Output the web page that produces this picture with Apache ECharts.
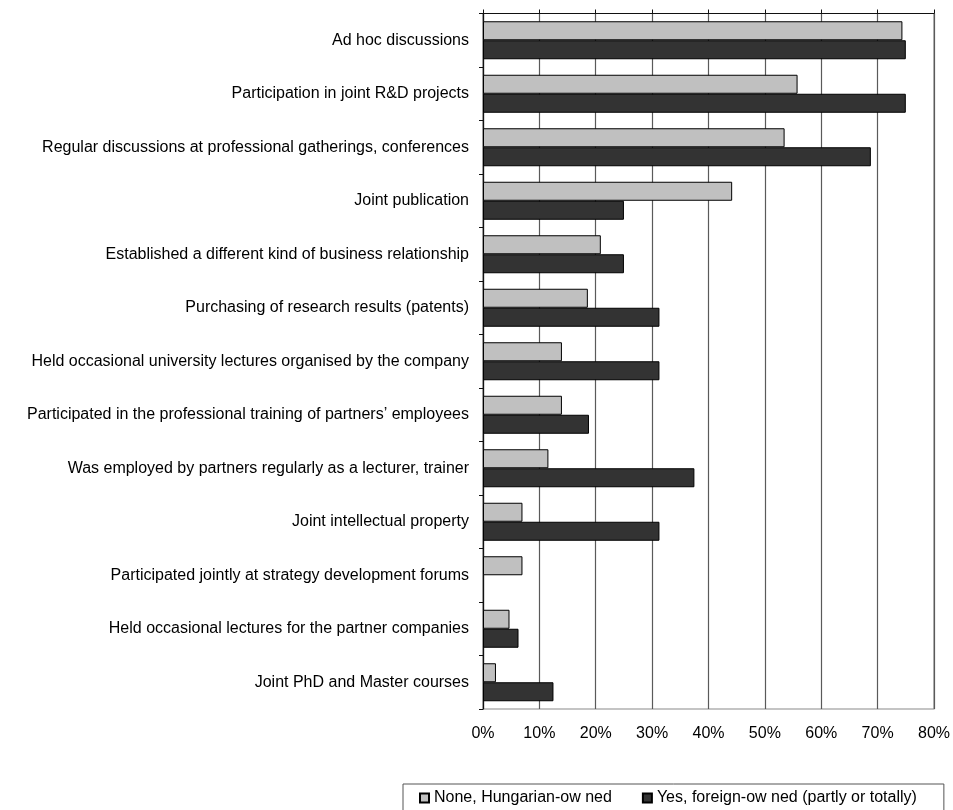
<!DOCTYPE html>
<html>
<head>
<meta charset="utf-8">
<script src="https://cdn.jsdelivr.net/npm/echarts@6/dist/echarts.min.js"></script>
<style>
  html, body { margin: 0; padding: 0; background: #ffffff; }
  #chart { width: 953px; height: 810px; }
</style>
</head>
<body>
<div id="chart"></div>
<script>
// Forms of cooperation, listed top to bottom
const categories = [
  'Ad hoc discussions',
  'Participation in joint R&D projects',
  'Regular discussions at professional gatherings, conferences',
  'Joint publication',
  'Established a different kind of business relationship',
  'Purchasing of research results (patents)',
  'Held occasional university lectures organised by the company',
  'Participated in the professional training of partners\u2019 employees',
  'Was employed by partners regularly as a lecturer, trainer',
  'Joint intellectual property',
  'Participated jointly at strategy development forums',
  'Held occasional lectures for the partner companies',
  'Joint PhD and Master courses'
];

// Share of respondents (%)
const hungarianOwned = [74.4, 55.8, 53.5, 44.2, 20.9, 18.6, 14.0, 14.0, 11.6, 7.0, 7.0, 4.7, 2.3];
const foreignOwned   = [75.0, 75.0, 68.8, 25.0, 25.0, 31.3, 31.3, 18.8, 37.5, 31.3, 0, 6.3, 12.5];

const seriesNames = ['None, Hungarian-ow ned', 'Yes, foreign-ow ned (partly or totally)'];
const axisTicks = { min: 0, max: 80, interval: 10 };

const FONT = 'Liberation Sans, Arial, sans-serif';
const FONT_SIZE = 16;

// zero-length bars get no outline so nothing shows up for them
const toBarData = (values) => values.map(v => v === 0 ? { value: 0, itemStyle: { borderWidth: 0 } } : v);

const chart = echarts.init(document.getElementById('chart'), null, { renderer: 'canvas' });

chart.setOption({
  animation: false,
  backgroundColor: '#ffffff',
  textStyle: { fontFamily: FONT, color: '#000' },
  grid: {
    left: 483, right: 19, top: 13.5, bottom: 101,
    show: true, borderColor: '#8a8a8a', borderWidth: 1.2
  },
  legend: {
    left: 403, top: 784,
    orient: 'horizontal',
    padding: [6, 27, 30, 16],
    borderColor: '#555',
    borderWidth: 1,
    itemWidth: 9, itemHeight: 9,
    itemGap: 30,
    icon: 'rect',
    textStyle: { fontFamily: FONT, fontSize: FONT_SIZE, color: '#000' },
    data: seriesNames
  },
  xAxis: [
    {
      type: 'value',
      position: 'bottom',
      min: axisTicks.min, max: axisTicks.max, interval: axisTicks.interval,
      axisLine: { show: false },
      axisTick: { show: false },
      axisLabel: {
        formatter: '{value}%', fontSize: FONT_SIZE, color: '#000', margin: 17,
        fontFamily: FONT
      },
      splitLine: { show: true, lineStyle: { color: '#5a5a5a', width: 1.2 } }
    },
    {
      type: 'value',
      position: 'top',
      min: axisTicks.min, max: axisTicks.max, interval: axisTicks.interval,
      axisLine: { show: true, lineStyle: { color: '#111', width: 1.2 } },
      axisTick: { show: true, inside: false, length: 4, lineStyle: { color: '#111' } },
      axisLabel: { show: false },
      splitLine: { show: false }
    }
  ],
  yAxis: {
    type: 'category',
    inverse: true,
    data: categories,
    axisLine: { show: true, lineStyle: { color: '#111', width: 1.2 } },
    axisTick: { show: true, inside: false, length: 4, lineStyle: { color: '#111' } },
    axisLabel: { fontSize: FONT_SIZE, color: '#000', margin: 14, fontFamily: FONT },
    splitLine: { show: false }
  },
  series: [
    {
      name: seriesNames[0],
      type: 'bar',
      xAxisIndex: 0,
      data: toBarData(hungarianOwned),
      barWidth: 19,
      barGap: '0%',
      itemStyle: { color: '#c0c0c0', borderColor: '#000', borderWidth: 1 }
    },
    {
      name: seriesNames[1],
      type: 'bar',
      xAxisIndex: 0,
      data: toBarData(foreignOwned),
      barWidth: 19,
      barGap: '0%',
      itemStyle: { color: '#333333', borderColor: '#000', borderWidth: 1 }
    }
  ]
});
</script>
</body>
</html>
